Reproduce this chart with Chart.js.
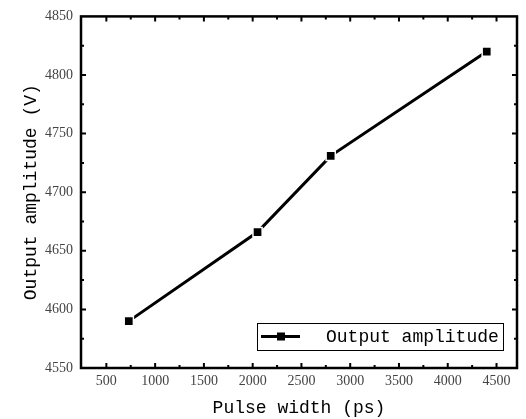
<!DOCTYPE html>
<html>
<head>
<meta charset="utf-8">
<script src="https://cdn.jsdelivr.net/npm/chart.js@4/dist/chart.umd.min.js"></script>
<style>
  html, body { margin: 0; padding: 0; background: #fff; }
  #wrap { width: 526px; height: 419px; }
</style>
</head>
<body>
<div id="wrap"><canvas id="ampChart" width="526" height="419"></canvas></div>
<script>
// Measured output amplitude against pulse width
const pulseWidth = [730, 2050, 2800, 4400];
const amplitude = [4590, 4666, 4731, 4820];
const xTickValues = [500, 1000, 1500, 2000, 2500, 3000, 3500, 4000, 4500];
const yTickValues = [4550, 4600, 4650, 4700, 4750, 4800, 4850];
const seriesName = 'Output amplitude';

const tickFont = { family: 'Liberation Serif', size: 14 };
const titleFont = { family: 'Liberation Mono', size: 18, weight: 'normal' };

// Frame plus inward major/minor ticks on all four sides
const framePlugin = {
    id: 'frame',
    afterDraw(chart) {
        const { ctx, chartArea: a, scales } = chart;
        const xs = scales.x, ys = scales.y;
        ctx.save();
        ctx.strokeStyle = '#000';
        ctx.lineWidth = 2.5;
        ctx.strokeRect(a.left, a.top, a.right - a.left, a.bottom - a.top);

        ctx.lineWidth = 2;
        const drawX = (v, len) => {
            const px = xs.getPixelForValue(v);
            if (px <= a.left + 1 || px >= a.right - 1) return;
            ctx.beginPath();
            ctx.moveTo(px, a.bottom); ctx.lineTo(px, a.bottom - len);
            ctx.moveTo(px, a.top); ctx.lineTo(px, a.top + len);
            ctx.stroke();
        };
        const drawY = (v, len) => {
            const py = ys.getPixelForValue(v);
            if (py <= a.top + 1 || py >= a.bottom - 1) return;
            ctx.beginPath();
            ctx.moveTo(a.left, py); ctx.lineTo(a.left + len, py);
            ctx.moveTo(a.right, py); ctx.lineTo(a.right - len, py);
            ctx.stroke();
        };
        xTickValues.forEach(v => { drawX(v, 5); drawX(v + 250, 3); });
        drawX(xTickValues[0] - 250, 3);
        yTickValues.forEach(v => { drawY(v, 5); drawY(v + 25, 3); });
        ctx.restore();
    }
};

// Boxed legend in the lower right of the plot
const legendBoxPlugin = {
    id: 'legendBox',
    afterDraw(chart) {
        const { ctx, chartArea: a } = chart;
        const left = 257, right = a.right - 14, top = 323, bottom = 350;
        const mid = (top + bottom) / 2;
        ctx.save();
        ctx.fillStyle = '#fff';
        ctx.fillRect(left, top, right - left, bottom - top);
        ctx.strokeStyle = '#000';
        ctx.lineWidth = 1;
        ctx.strokeRect(left + 0.5, top + 0.5, right - left, bottom - top);
        ctx.lineWidth = 3;
        ctx.beginPath();
        ctx.moveTo(left + 4, mid); ctx.lineTo(left + 43, mid);
        ctx.stroke();
        ctx.fillStyle = '#000';
        ctx.fillRect(left + 20, mid - 4, 8, 8);
        ctx.font = `${titleFont.weight} ${titleFont.size}px ${titleFont.family}`;
        ctx.textBaseline = 'middle';
        ctx.fillText(chart.data.datasets[0].label, left + 69, mid + 1);
        ctx.restore();
    }
};

const plain = v => String(v);

new Chart(document.getElementById('ampChart'), {
    type: 'line',
    data: {
        datasets: [{
            label: seriesName,
            data: pulseWidth.map((x, i) => ({ x: x, y: amplitude[i] })),
            borderColor: '#000',
            backgroundColor: '#000',
            borderWidth: 3,
            pointStyle: 'rect',
            pointRadius: 6.5,
            pointBorderColor: '#fff',
            pointBorderWidth: 1.5,
            pointBackgroundColor: '#000',
            tension: 0
        }]
    },
    options: {
        responsive: false,
        animation: false,
        layout: { padding: { top: 15, right: 9, left: 0, bottom: 0 } },
        plugins: {
            legend: { display: false },
            tooltip: { enabled: false }
        },
        scales: {
            x: {
                type: 'linear',
                min: 240,
                max: 4710,
                afterBuildTicks: s => { s.ticks = xTickValues.map(v => ({ value: v })); },
                afterFit: s => { s.height = 51; },
                grid: { display: false, drawTicks: false },
                border: { display: false },
                ticks: { color: '#444', font: tickFont, padding: 5, maxRotation: 0, callback: plain },
                title: {
                    display: true, text: 'Pulse width (ps)', color: '#000',
                    font: titleFont, padding: { top: 3, bottom: 0 }
                }
            },
            y: {
                min: 4550,
                max: 4850,
                afterBuildTicks: s => { s.ticks = yTickValues.map(v => ({ value: v })); },
                afterFit: s => { s.width = 81; },
                grid: { display: false, drawTicks: false },
                border: { display: false },
                ticks: { color: '#444', font: tickFont, padding: 8, callback: plain },
                title: {
                    display: true, text: 'Output amplitude (V)', color: '#000',
                    font: titleFont, padding: { top: 20, bottom: 0 }
                }
            }
        }
    },
    plugins: [framePlugin, legendBoxPlugin]
});
</script>
</body>
</html>
